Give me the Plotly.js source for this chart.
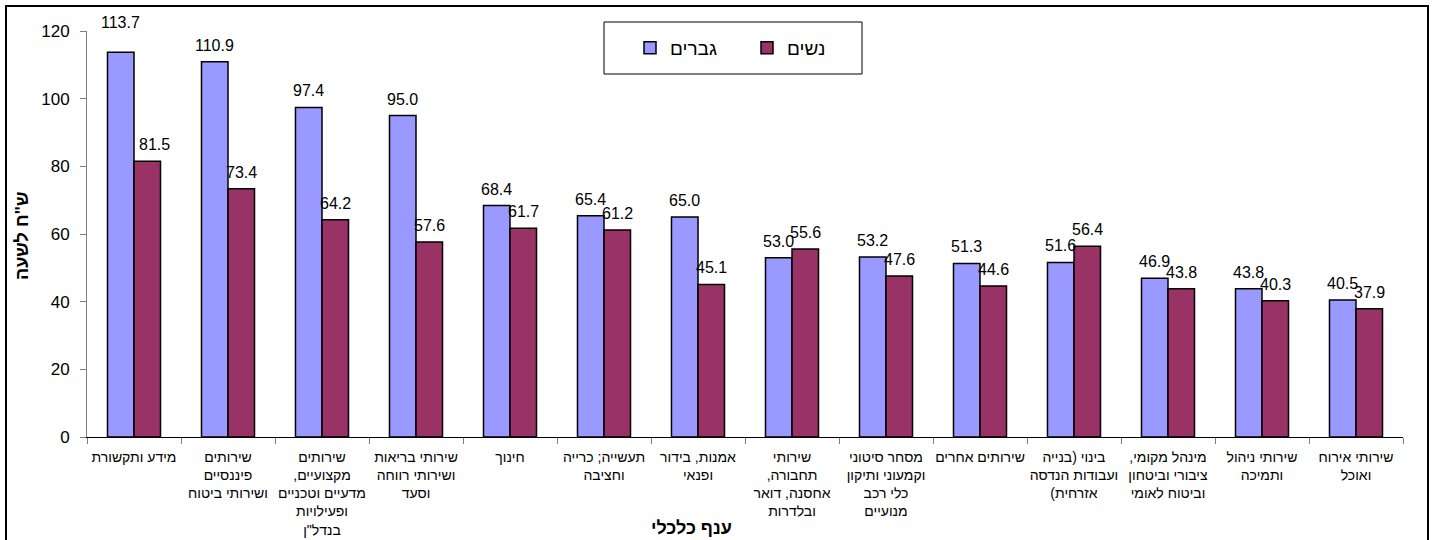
<!DOCTYPE html>
<html>
<head>
<meta charset="utf-8">
<script src="https://cdn.plot.ly/plotly-3.0.1.min.js"></script>
<style>
html,body{margin:0;padding:0;background:#fff;}
#chart{width:1432px;height:540px;}
</style>
</head>
<body>
<div id="chart"></div>
<script>
// Trailing punctuation is placed first in these lines so that it is drawn
// on the same visual side as in the reference picture.
const categories = [
  "מידע ותקשורת",
  "שירותים<br>פיננסיים<br>ושירותי ביטוח",
  "שירותים<br>,מקצועיים<br>מדעיים וטכניים<br>ופעילויות<br>בנדל\"ן",
  "שירותי בריאות<br>ושירותי רווחה<br>וסעד",
  "חינוך",
  "תעשייה; כרייה<br>וחציבה",
  "אמנות, בידור<br>ופנאי",
  "שירותי<br>,תחבורה<br>אחסנה, דואר<br>ובלדרות",
  "מסחר סיטוני<br>וקמעוני ותיקון<br>כלי רכב<br>מנועיים",
  "שירותים אחרים",
  "בינוי (בנייה<br>ועבודות הנדסה<br>(אזרחית",
  ",מינהל מקומי<br>ציבורי וביטחון<br>וביטוח לאומי",
  "שירותי ניהול<br>ותמיכה",
  "שירותי אירוח<br>ואוכל"
];
const men   = [113.7, 110.9, 97.4, 95.0, 68.4, 65.4, 65.0, 53.0, 53.2, 51.3, 51.6, 46.9, 43.8, 40.5];
const women = [81.5, 73.4, 64.2, 57.6, 61.7, 61.2, 45.1, 55.6, 47.6, 44.6, 56.4, 43.8, 40.3, 37.9];
const seriesNames = ["גברים", "נשים"];
const yTitle = "ש\"ח לשעה";
const xTitle = "ענף כלכלי";

const FONT = "Arial, 'Liberation Sans', 'DejaVu Sans', sans-serif";
const W = 1432, H = 540;
const L = 87, R = 29, T = 31, B = 103;
const pw = W - L - R, ph = H - T - B;
const px = x => (x - L) / pw;
const py = y => (H - B - y) / ph;

const BARGAP = 0.436;
const halfBar = (pw / categories.length) * (1 - BARGAP) / 4;

// label nudges (pixel offsets, style only) keyed by series-index
const nudge = {"0-0": {dx: 0, dy: 13}, "1-0": {dx: 7, dy: 0}};

function bar(name, vals, color) {
  return {
    type: "bar", name: name, x: categories, y: vals,
    marker: {color: color, line: {color: "#000", width: 1.5}},
    hoverinfo: "skip"
  };
}
const data = [
  bar(seriesNames[0], men, "#9999FF"),
  bar(seriesNames[1], women, "#993366")
];

function labels(vals, s, shift) {
  return vals.map((v, i) => {
    const n = nudge[s + "-" + i] || {dx: 0, dy: 0};
    return {
      x: i, y: v, xref: "x", yref: "y",
      text: v.toFixed(1), showarrow: false,
      xanchor: "center", yanchor: "bottom",
      xshift: shift + n.dx, yshift: 6 + n.dy,
      font: {family: FONT, size: 16, color: "#000"}
    };
  });
}

const layout = {
  width: W, height: H,
  margin: {l: L, r: R, t: T, b: B, pad: 0},
  paper_bgcolor: "#fff", plot_bgcolor: "#fff",
  font: {family: FONT, color: "#000"},
  barmode: "group",
  bargap: BARGAP,
  bargroupgap: 0,
  showlegend: true,
  legend: {
    orientation: "h",
    x: px(630), xanchor: "left",
    y: py(48), yanchor: "middle",
    bgcolor: "rgba(0,0,0,0)",
    borderwidth: 0,
    font: {family: FONT, size: 19, color: "#000"},
    entrywidth: 72, entrywidthmode: "pixels",
    traceorder: "normal"
  },
  xaxis: {
    type: "category",
    showline: true, linecolor: "#000", linewidth: 1,
    ticks: "outside", tickson: "boundaries", ticklen: 6, tickcolor: "#808080",
    tickfont: {family: FONT, size: 14, color: "#000"},
    ticklabelstandoff: 7,
    tickangle: 0,
    showgrid: false, zeroline: false,
    automargin: false
  },
  yaxis: {
    range: [0, 120], dtick: 20,
    showline: true, linecolor: "#808080", linewidth: 1,
    ticks: "outside", ticklen: 6, tickcolor: "#808080",
    tickfont: {family: FONT, size: 17, color: "#000"},
    ticklabelstandoff: 7,
    showgrid: false, zeroline: false,
    automargin: false
  },
  shapes: [
    {type: "rect", xref: "paper", yref: "paper",
     x0: px(6), x1: px(1428), y0: py(560), y1: py(6),
     line: {color: "#000", width: 2}, fillcolor: "rgba(0,0,0,0)", layer: "above"},
    {type: "rect", xref: "paper", yref: "paper",
     x0: px(604), x1: px(862), y0: py(74), y1: py(22),
     line: {color: "#000", width: 1}, fillcolor: "#fff", layer: "below"}
  ],
  annotations: [].concat(
    labels(men, 0, -halfBar),
    labels(women, 1, halfBar),
    [
      {text: "<b>" + yTitle + "</b>", xref: "paper", yref: "paper",
       x: px(22), y: py(236), textangle: -90, showarrow: false,
       xanchor: "center", yanchor: "middle",
       font: {family: FONT, size: 18, color: "#000"}},
      {text: "<b>" + xTitle + "</b>", xref: "paper", yref: "paper",
       x: px(691), y: py(528), showarrow: false,
       xanchor: "center", yanchor: "middle",
       font: {family: FONT, size: 18, color: "#000"}}
    ]
  )
};

Plotly.newPlot("chart", data, layout, {staticPlot: true, displayModeBar: false});
</script>
</body>
</html>
